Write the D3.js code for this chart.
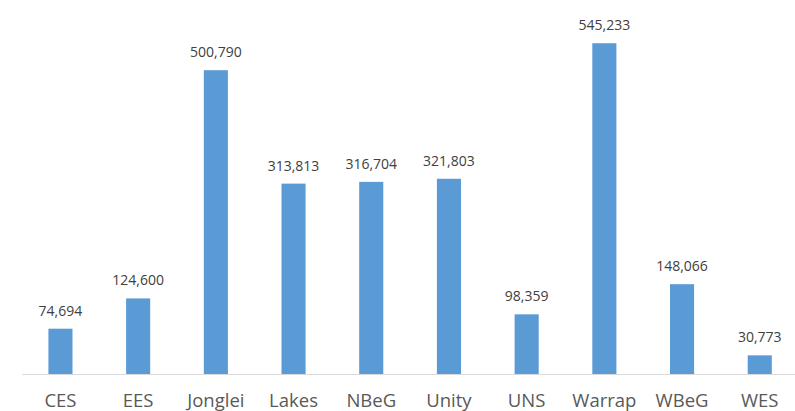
<!DOCTYPE html>
<html><head><meta charset="utf-8">
<script src="https://cdn.jsdelivr.net/npm/d3@7"></script>
<style>html,body{margin:0;padding:0;background:#fff;}</style>
</head><body>
<svg id="chart" width="795" height="411"></svg>
<script>
const categories = ["CES","EES","Jonglei","Lakes","NBeG","Unity","UNS","Warrap","WBeG","WES"];
const values = [74694,124600,500790,313813,316704,321803,98359,545233,148066,30773];

const svg = d3.select("#chart");
const x = d3.scaleBand().domain(categories).range([21.6, 798.6]).paddingInner(0.69).paddingOuter(0.345);
const y = d3.scaleLinear().domain([0, 600000]).range([374, 10]);
const fmt = d3.format(",");
const font = "'Open Sans', sans-serif";

svg.append("line").attr("x1", 22).attr("x2", 795).attr("y1", y(0)+0.5).attr("y2", y(0)+0.5)
  .attr("stroke", "#d9d9d9").attr("stroke-width", 1);

svg.selectAll("rect.bar").data(values).join("rect").attr("class","bar")
  .attr("x", (d,i) => x(categories[i]))
  .attr("width", x.bandwidth())
  .attr("y", d => y(d))
  .attr("height", d => y(0) - y(d))
  .attr("fill", "#5b9bd5");

svg.selectAll("text.val").data(values).join("text").attr("class","val")
  .attr("x", (d,i) => x(categories[i]) + x.bandwidth()/2)
  .attr("y", d => y(d) - 13)
  .attr("text-anchor","middle")
  .attr("font-family", font).attr("font-size", 14).attr("fill", "#404040")
  .text(d => fmt(d));

const xAxis = d3.axisBottom(x).tickSize(0).tickPadding(0);
const gx = svg.append("g").attr("transform", `translate(0,${y(0)})`).call(xAxis);
gx.select(".domain").remove();
gx.selectAll("text").attr("dy", null).attr("y", 32.5)
  .attr("font-family", font).attr("font-size", 18.5).attr("fill", "#595959");
</script>
</body></html>
